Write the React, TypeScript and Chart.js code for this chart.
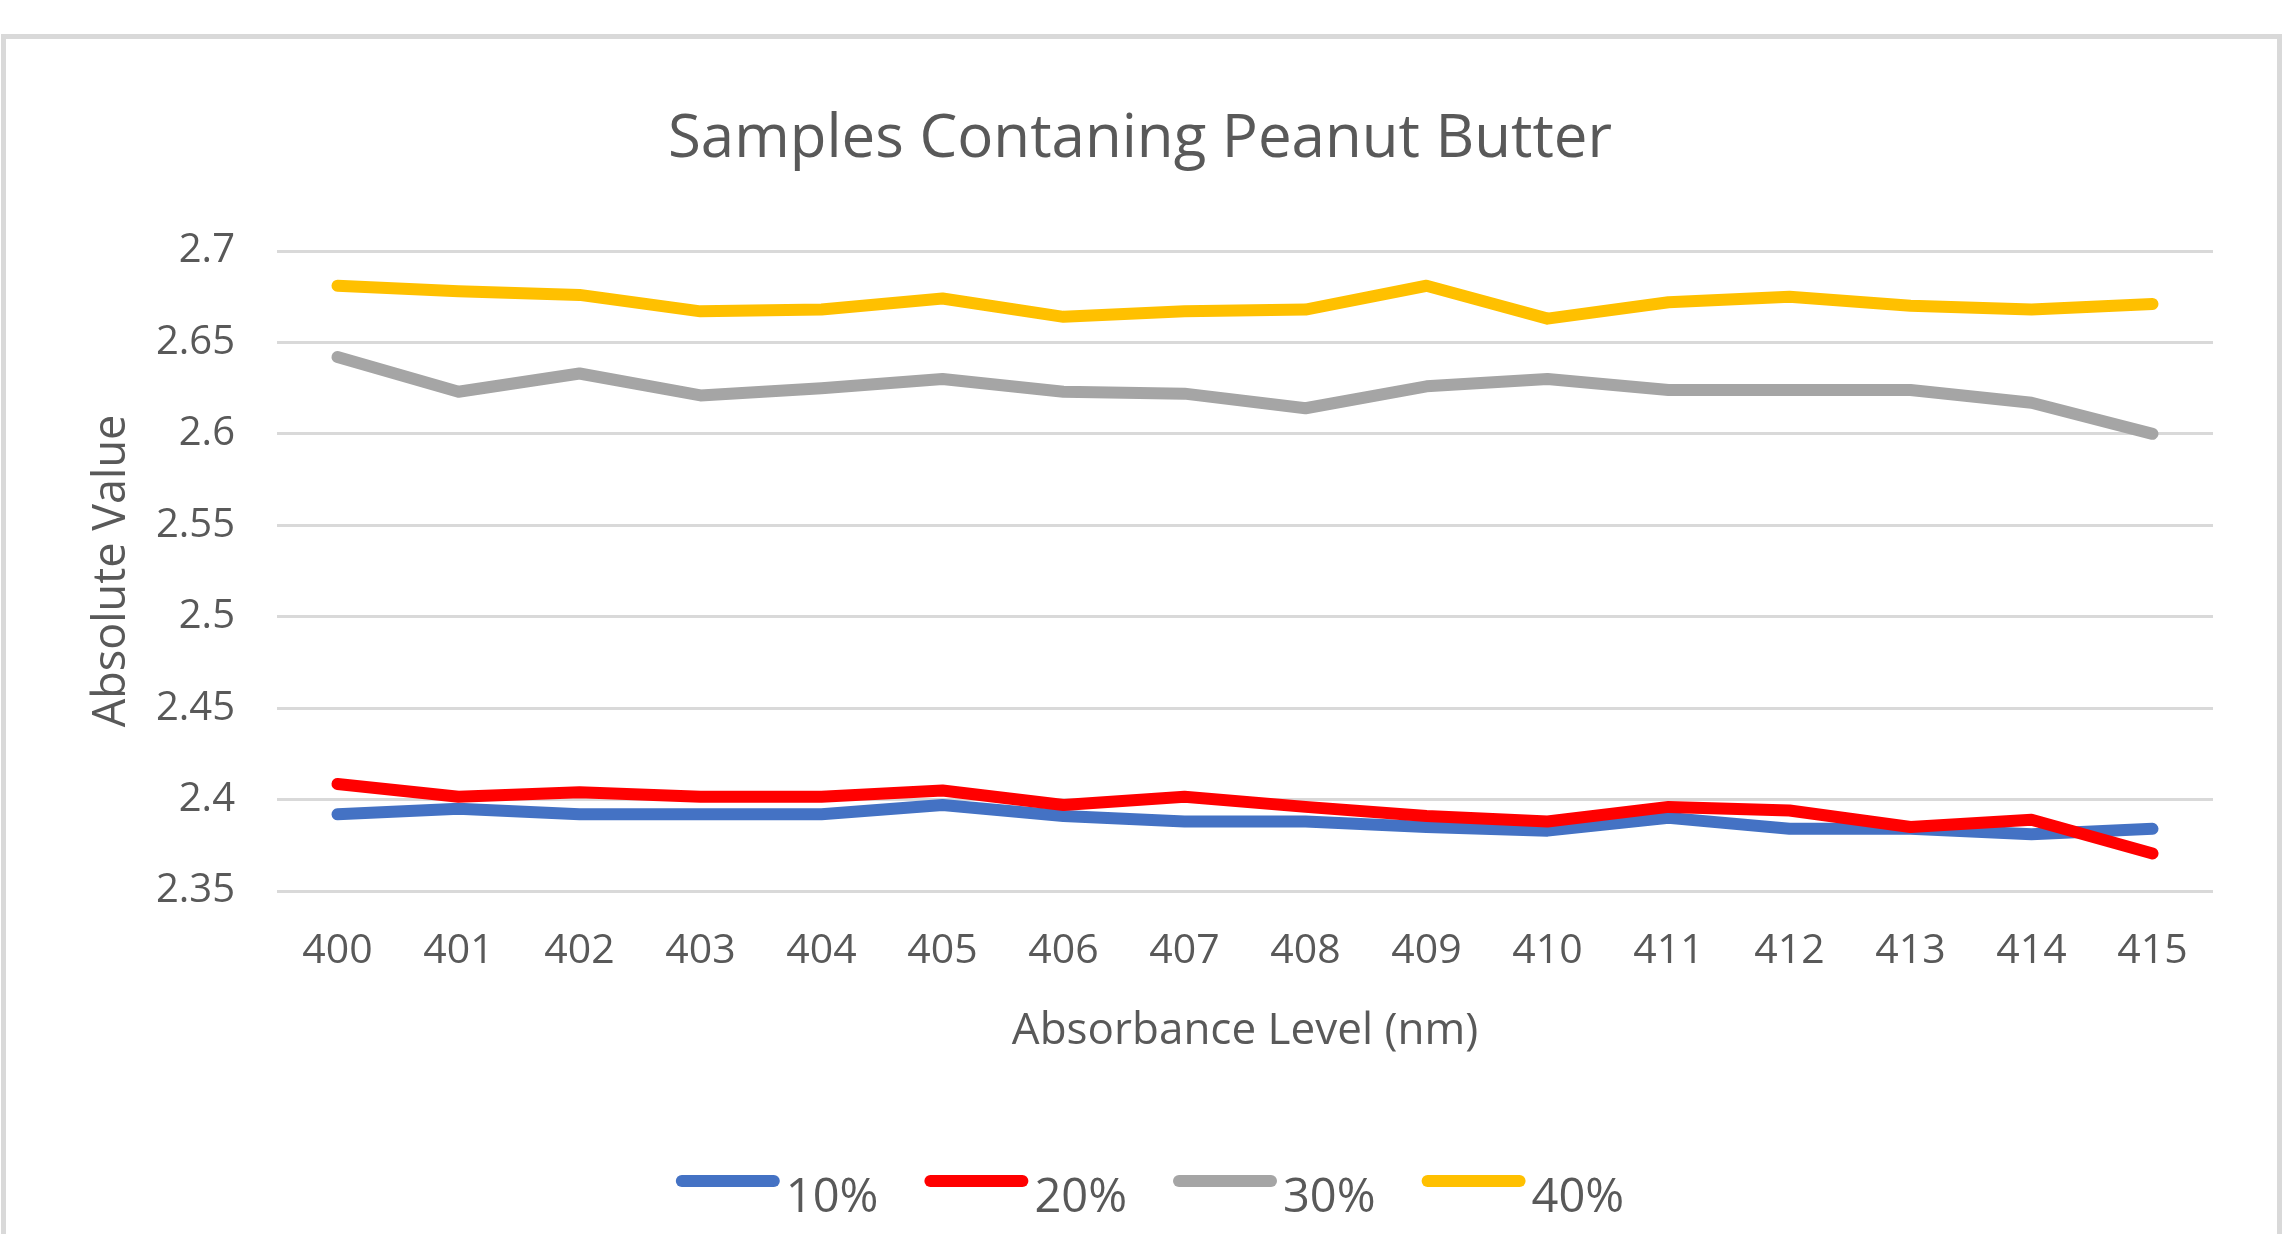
import React, { useEffect, useRef } from "react";
import { Chart, registerables } from "chart.js";

Chart.register(...registerables);

const categories = ["400", "401", "402", "403", "404", "405", "406", "407", "408", "409", "410", "411", "412", "413", "414", "415"];
const seriesLabels = ["10%", "20%", "30%", "40%"];
const series10 = [2.392, 2.395, 2.392, 2.392, 2.392, 2.397, 2.391, 2.388, 2.388, 2.385, 2.383, 2.390, 2.384, 2.384, 2.381, 2.384];
const series20 = [2.4085, 2.4015, 2.404, 2.4015, 2.4015, 2.405, 2.397, 2.4015, 2.396, 2.391, 2.388, 2.396, 2.394, 2.385, 2.389, 2.3705];
const series30 = [2.642, 2.623, 2.633, 2.621, 2.625, 2.630, 2.623, 2.622, 2.614, 2.626, 2.630, 2.624, 2.624, 2.624, 2.617, 2.600];
const series40 = [2.681, 2.678, 2.676, 2.667, 2.668, 2.674, 2.664, 2.667, 2.668, 2.681, 2.663, 2.672, 2.675, 2.670, 2.668, 2.671];
const seriesColors = ["#4472C4", "#FF0000", "#A5A5A5", "#FFC000"];
const yMin = 2.35;
const yMax = 2.7;
const yStep = 0.05;

const FONT = "'Open Sans', 'DejaVu Sans', sans-serif";
const TEXT = "#595959";

const legendPlugin = {
  id: "bottomLegend",
  afterDraw(chart: any) {
    const ctx = chart.ctx;
    const lineW = 104;
    const gap = 6;
    const itemGap = 46;
    ctx.save();
    ctx.font = `47px ${FONT}`;
    const items = chart.data.datasets.map((ds: any) => ({
      label: ds.label,
      color: ds.borderColor,
      tw: ctx.measureText(ds.label).width,
    }));
    let total = 0;
    items.forEach((it: any, i: number) => {
      total += lineW + gap + it.tw + (i < items.length - 1 ? itemGap : 0);
    });
    let x = chart.width / 2 + 7 - total / 2;
    const lineY = 1181;
    const textY = 1212;
    items.forEach((it: any) => {
      ctx.strokeStyle = it.color;
      ctx.lineWidth = 12;
      ctx.lineCap = "round";
      ctx.beginPath();
      ctx.moveTo(x + 6, lineY);
      ctx.lineTo(x + lineW - 6, lineY);
      ctx.stroke();
      ctx.fillStyle = TEXT;
      ctx.textAlign = "left";
      ctx.textBaseline = "alphabetic";
      ctx.fillText(it.label, x + lineW + gap, textY);
      x += lineW + gap + it.tw + itemGap;
    });
    ctx.restore();
  },
};

export default function App() {
  const canvasRef = useRef<HTMLCanvasElement | null>(null);

  useEffect(() => {
    const canvas = canvasRef.current;
    if (!canvas) return;
    const allSeries = [series10, series20, series30, series40];
    const chart = new Chart(canvas, {
      type: "line",
      data: {
        labels: categories,
        datasets: allSeries.map((data, i) => ({
          label: seriesLabels[i],
          data,
          borderColor: seriesColors[i],
          backgroundColor: seriesColors[i],
          borderWidth: 12,
          pointRadius: 0,
          pointHoverRadius: 0,
          tension: 0,
          fill: false,
          borderJoinStyle: "round" as const,
          borderCapStyle: "round" as const,
          order: 4 - i,
        })),
      },
      options: {
        responsive: false,
        animation: false,
        devicePixelRatio: 1,
        layout: { padding: { left: 67, right: 73, top: 0, bottom: 176 } },
        plugins: {
          legend: { display: false },
          tooltip: { enabled: false },
          title: {
            display: true,
            text: "Samples Contaning Peanut Butter",
            color: TEXT,
            font: { family: FONT, size: 60, weight: "normal", lineHeight: 1.2 },
            padding: { top: 104, bottom: 75 },
          },
        },
        scales: {
          x: {
            offset: true,
            grid: { display: false },
            border: { display: false },
            ticks: {
              color: TEXT,
              font: { family: FONT, size: 41, lineHeight: 1.2 },
              padding: 28,
              maxRotation: 0,
              autoSkip: false,
            },
            title: {
              display: true,
              text: "Absorbance Level (nm)",
              color: TEXT,
              font: { family: FONT, size: 44, lineHeight: 1.2 },
              padding: { top: 1, bottom: 0 },
            },
          },
          y: {
            min: yMin,
            max: yMax,
            grid: { color: "#D9D9D9", lineWidth: 3, drawTicks: false },
            border: { display: false },
            ticks: {
              stepSize: yStep,
              color: TEXT,
              font: { family: FONT, size: 40, lineHeight: 1.2 },
              padding: 42,
              callback: (v: any) => String(Number(Number(v).toFixed(2))),
            },
            title: {
              display: true,
              text: "Absolute Value",
              color: TEXT,
              font: { family: FONT, size: 45, lineHeight: 1.2 },
              padding: { top: 18, bottom: 0 },
            },
            afterFit: (scale: any) => {
              scale.width = 210;
            },
          },
        },
      },
      plugins: [legendPlugin],
    });
    return () => chart.destroy();
  }, []);

  return (
    <div style={{ position: "absolute", left: 0, top: 0, width: 2286, height: 1234, overflow: "hidden", background: "#fff" }}>
      <div
        style={{
          position: "absolute",
          left: 1,
          top: 34,
          width: 2281,
          height: 1200,
          boxSizing: "border-box",
          borderTop: "5px solid #D9D9D9",
          borderLeft: "5px solid #D9D9D9",
          borderRight: "5px solid #D9D9D9",
          borderBottom: "none",
        }}
      />
      <canvas ref={canvasRef} width={2286} height={1234} style={{ position: "absolute", left: 0, top: 0 }} />
    </div>
  );
}
